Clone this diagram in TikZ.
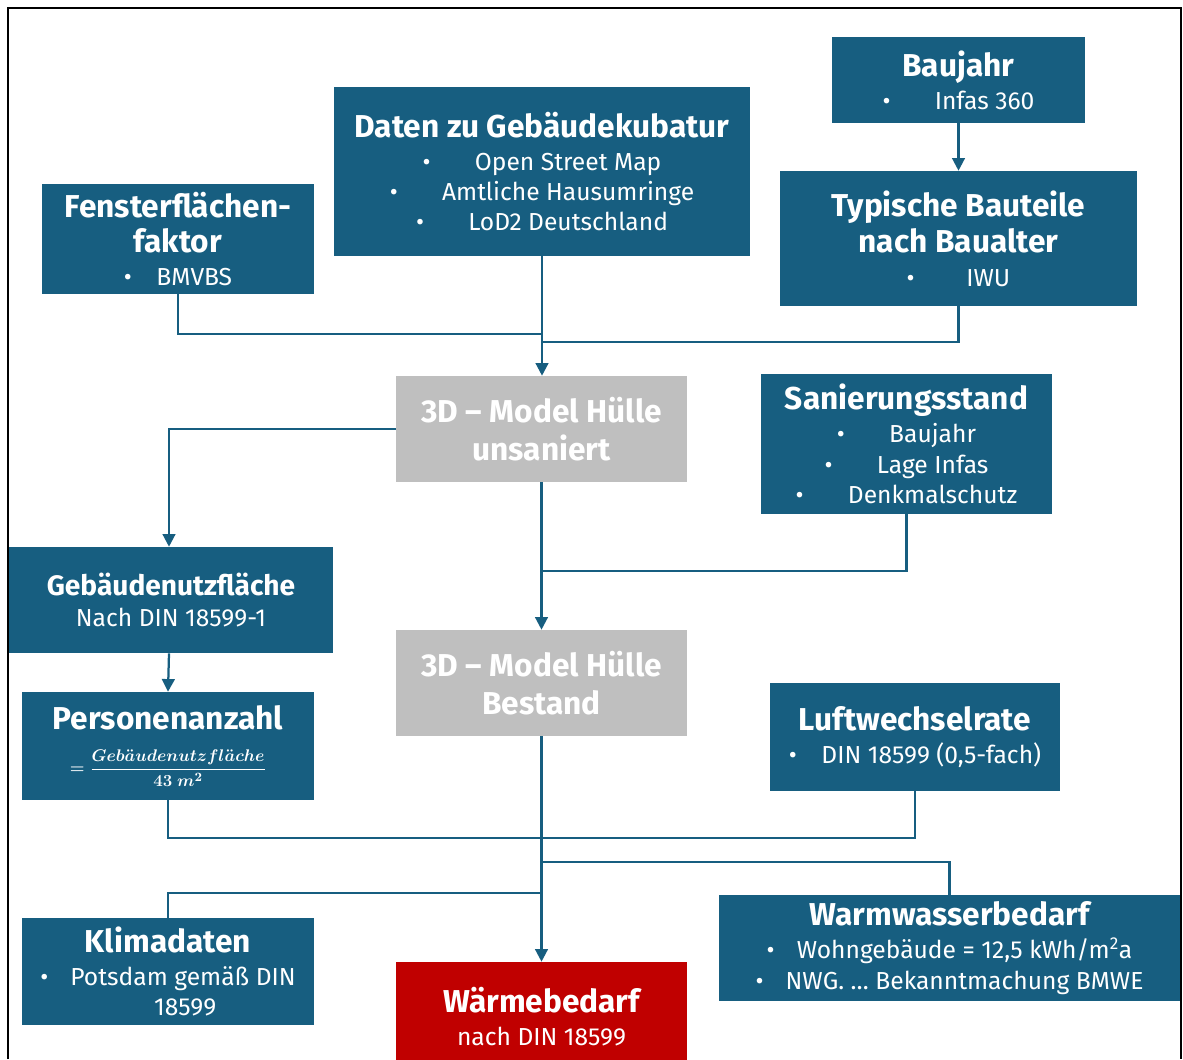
\documentclass[tikz,border=0pt]{standalone}
\usepackage{fontspec}
\setmainfont{Fira Sans}
\usepackage{amsmath}
\usetikzlibrary{arrows.meta, positioning, calc}
\definecolor{boxblue}{RGB}{23, 94, 128}
\definecolor{boxgray}{RGB}{191, 191, 191}
\definecolor{boxred}{RGB}{192, 0, 0}

\newcommand{\bul}[1][1.8em]{\textbullet\hspace{#1}}
\newcommand{\ttl}{\fontsize{22.5}{27}\selectfont\bfseries}

\tikzset{
  box/.style={rectangle, fill=boxblue, text=white, align=center, inner sep=0pt,
    font=\fontsize{17.5}{21.5}\selectfont},
  graybox/.style={box, fill=boxgray, font=\ttl},
  redbox/.style={box, fill=boxred},
  sz/.style 2 args={minimum width=#1*0.025cm, minimum height=#2*0.025cm},
  conn/.style={draw=boxblue, line width=1.6pt},
  arr/.style={conn, -{Triangle[width=9pt,length=9pt]}}
}

\begin{document}
\begin{tikzpicture}[x=0.025cm, y=-0.025cm]
  \useasboundingbox (0,0) rectangle (1183,1059);
  \draw[line width=1.4pt] (8,1059) -- (8,8) -- (1181,8) -- (1181,1059);

  % Eingangsdaten oben
  \node[box, sz={272}{110}] (fenster) at (178,239)
    {{\ttl Fensterflächen-}\\[3pt]{\ttl faktor}\\[2pt]\bul[1em]BMVBS};
  \node[box, sz={416}{169}] (daten) at (542,171.5)
    {{\ttl Daten zu Gebäudekubatur}\\[2pt]\bul Open Street Map\\
     \bul Amtliche Hausumringe\\\bul LoD2 Deutschland};
  \node[box, sz={253}{86}] (baujahr) at (958.5,80)
    {{\ttl Baujahr}\\[2pt]\bul Infas 360};
  \node[box, sz={357}{135}] (bauteile) at (958.5,238.5)
    {{\ttl Typische Bauteile}\\[3pt]{\ttl nach Baualter}\\[2pt]\bul[2.1em]IWU};

  % Modelle
  \node[graybox, sz={291}{106}] (unsaniert) at (541.5,429)
    {3D -- Model Hülle\\unsaniert};
  \node[box, sz={291}{140}] (sanierung) at (906.5,444)
    {{\ttl Sanierungsstand}\\[2pt]\bul Baujahr\\
     \bul Lage Infas\\\bul Denkmalschutz};
  \node[box, sz={324}{106}] (nutzflaeche) at (171,600)
    {{\fontsize{20}{24}\selectfont\bfseries Gebäudenutzfläche}\\[1pt]Nach DIN 18599-1};
  \node[graybox, sz={291}{106}] (bestand) at (541.5,683)
    {3D -- Model Hülle\\Bestand};
  \node[box, sz={292}{108}] (personen) at (168,746)
    {{\ttl Personenanzahl}\\[10pt]
     {\fontsize{12.8}{15}\selectfont\boldmath
      $=\dfrac{Geb\ddot{a}udenutzfl\ddot{a}che}{43\ m^2}$}};
  \node[box, sz={290}{108}] (luft) at (915,737)
    {{\ttl Luftwechselrate}\\[2pt]\bul[1em]DIN 18599 (0,5-fach)};

  % Ergebnis und weitere Eingaben
  \node[box, sz={292}{107}] (klima) at (168,971.5)
    {{\ttl Klimadaten}\\[2pt]\bul[0.9em]Potsdam gemäß DIN\\\hspace{1.4em}18599};
  \node[redbox, sz={291}{110}] (waerme) at (541.5,1017)
    {{\ttl Wärmebedarf}\\[2pt]nach DIN 18599};
  \node[box, sz={461}{106}] (warmwasser) at (949.5,948)
    {{\ttl Warmwasserbedarf}\\[2pt]\bul[0.9em]Wohngebäude = 12,5 kWh/m\textsuperscript{2}a\\
     \bul[0.9em]NWG. \dots{} Bekanntmachung BMWE};

  % Verbindungspunkte
  \coordinate (j1) at (541,334);
  \coordinate (j2) at (541,342);
  \coordinate (j3) at (541,571);
  \coordinate (j4) at (541,862);
  \coordinate (j5) at (541,893);

  \draw[conn] (fenster.south) |- (j1);
  \draw[conn] (bauteile.south) |- (j2);
  \draw[arr] (daten.south) -- (daten.south |- unsaniert.north);
  \draw[arr] (baujahr.south) -- (bauteile.north);
  \draw[arr] (unsaniert.west) -| ([xshift=-0.05cm]nutzflaeche.north);
  \draw[arr] (unsaniert.south) -- (bestand.north);
  \draw[conn] (sanierung.south) |- (j3);
  \draw[arr] ([xshift=-0.05cm]nutzflaeche.south) -- (personen.north);
  \draw[conn] (personen.south) -- ++(0,38) -| (luft.south);
  \draw[arr] (bestand.south) -- (waerme.north);
  \draw[conn] (j4) -| (warmwasser.north);
  \draw[conn] (j5) -| (klima.north);
\end{tikzpicture}
\end{document}
